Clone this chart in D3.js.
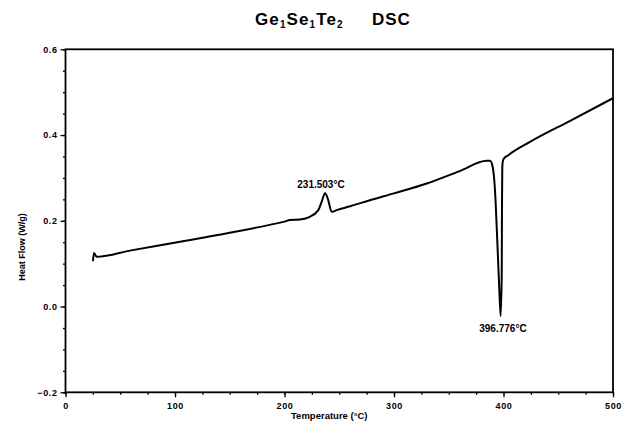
<!DOCTYPE html>
<html lang="en">
<head>
<meta charset="utf-8">
<title>GeSeTe2 DSC</title>
<script src="https://cdn.jsdelivr.net/npm/d3@7"></script>
<style>
  body { margin: 0; background: #fff; }
  text { font-family: Arial, "Liberation Sans", sans-serif; }
</style>
</head>
<body>
<script>
// temperature (°C) and heat flow (W/g)
var temps = [25.1, 26, 28.5, 60, 104.6, 150, 192.9, 200, 205, 214, 222, 230.9, 234, 237, 239.5,
             243.1, 247.7, 260, 278, 300, 329.9, 360, 384.7, 387.7, 390.1, 392.2, 394.3, 396.2, 397.4,
             398.4, 398.6, 398.9, 399.8, 404.4, 424.2, 460, 500];
var heatFlow = [0.106, 0.125, 0.116, 0.131, 0.151, 0.172, 0.194, 0.198, 0.202, 0.203, 0.208, 0.225, 0.245, 0.264, 0.252,
                0.221, 0.225, 0.234, 0.248, 0.264, 0.287, 0.316, 0.340, 0.340, 0.326, 0.272, 0.155, 0.038, -0.022,
                0.078, 0.233, 0.326, 0.343, 0.353, 0.384, 0.432, 0.486];

var xTicks = [0, 100, 200, 300, 400, 500];
var yTicks = [-0.2, 0.0, 0.2, 0.4, 0.6];

var peakLabels = ["231.503°C", "396.776°C"];
var peakT = [233.3, 399.5];
var peakV = [0.276, -0.059];

var width = 632, height = 423;
var margin = {top: 49.3, right: 19, bottom: 30.7, left: 65.5};

var svg = d3.select("body").append("svg")
    .attr("width", width)
    .attr("height", height);

var x = d3.scaleLinear().domain([0, 500]).range([margin.left, width - margin.right]);
var y = d3.scaleLinear().domain([-0.2, 0.6]).range([height - margin.bottom, margin.top]);

// title with subscripts
var title = svg.append("text")
    .attr("x", 255)
    .attr("y", 25)
    .attr("font-size", 17)
    .attr("font-weight", "bold")
    .attr("letter-spacing", 1.1);
[["Ge", false], ["1", true], ["Se", false], ["1", true], ["Te", false], ["2", true]].forEach(function(p, i) {
    title.append("tspan")
        .attr("font-size", p[1] ? 10 : 17)
        .attr("dy", p[1] ? 3 : (i ? -3 : 0))
        .text(p[0]);
});
svg.append("text")
    .attr("x", 372)
    .attr("y", 25)
    .attr("font-size", 17)
    .attr("font-weight", "bold")
    .attr("letter-spacing", 1)
    .text("DSC");

// minor ticks
var xAxisMinor = d3.axisBottom(x).tickValues(d3.range(0, 501, 25)).tickSize(2.5).tickFormat("");
var yAxisMinor = d3.axisLeft(y).tickValues(d3.range(-0.2, 0.61, 0.05)).tickSize(2.5).tickFormat("");
svg.append("g").attr("transform", "translate(0," + y(-0.2) + ")").call(xAxisMinor);
svg.append("g").attr("transform", "translate(" + x(0) + ",0)").call(yAxisMinor);

var xAxis = d3.axisBottom(x).tickValues(xTicks).tickSize(5).tickPadding(5).tickFormat(d3.format("d"));
var yAxis = d3.axisLeft(y).tickValues(yTicks).tickSize(5).tickPadding(3).tickFormat(d3.format(".1f"));

svg.append("g").attr("class", "xaxis")
    .attr("transform", "translate(0," + y(-0.2) + ")")
    .call(xAxis);
svg.append("g").attr("class", "yaxis")
    .attr("transform", "translate(" + x(0) + ",0)")
    .call(yAxis);

svg.selectAll(".xaxis text, .yaxis text")
    .attr("font-family", "Arial, 'Liberation Sans', sans-serif")
    .attr("font-size", 9)
    .attr("font-weight", "bold")
    .attr("letter-spacing", 0.6);
svg.selectAll(".domain").remove();
svg.selectAll(".tick line").attr("stroke-width", 1.3);

// frame
svg.append("rect")
    .attr("x", x(0))
    .attr("y", y(0.6))
    .attr("width", x(500) - x(0))
    .attr("height", y(-0.2) - y(0.6))
    .attr("fill", "none")
    .attr("stroke", "#000")
    .attr("stroke-width", 1.8);

// axis titles
svg.append("text")
    .attr("x", (x(0) + x(500)) / 2 - 10)
    .attr("y", 419)
    .attr("text-anchor", "middle")
    .attr("font-size", 9.5)
    .attr("font-weight", "bold")
    .text("Temperature (°C)");

svg.append("text")
    .attr("transform", "translate(25,247) rotate(-90)")
    .attr("text-anchor", "middle")
    .attr("font-size", 9)
    .attr("font-weight", "bold")
    .text("Heat Flow (W/g)");

// curve
var line = d3.line()
    .x(function(d, i) { return x(temps[i]); })
    .y(function(d) { return y(d); })
    .curve(d3.curveMonotoneX);

svg.append("path")
    .datum(heatFlow)
    .attr("d", line)
    .attr("fill", "none")
    .attr("stroke", "#000")
    .attr("stroke-width", 2);

// peak annotations
svg.selectAll(".peak")
    .data(peakLabels)
    .enter()
    .append("text")
    .attr("class", "peak")
    .attr("x", function(d, i) { return x(peakT[i]); })
    .attr("y", function(d, i) { return y(peakV[i]); })
    .attr("text-anchor", "middle")
    .attr("font-size", 10)
    .attr("font-weight", "bold")
    .text(function(d) { return d; });
</script>
</body>
</html>
